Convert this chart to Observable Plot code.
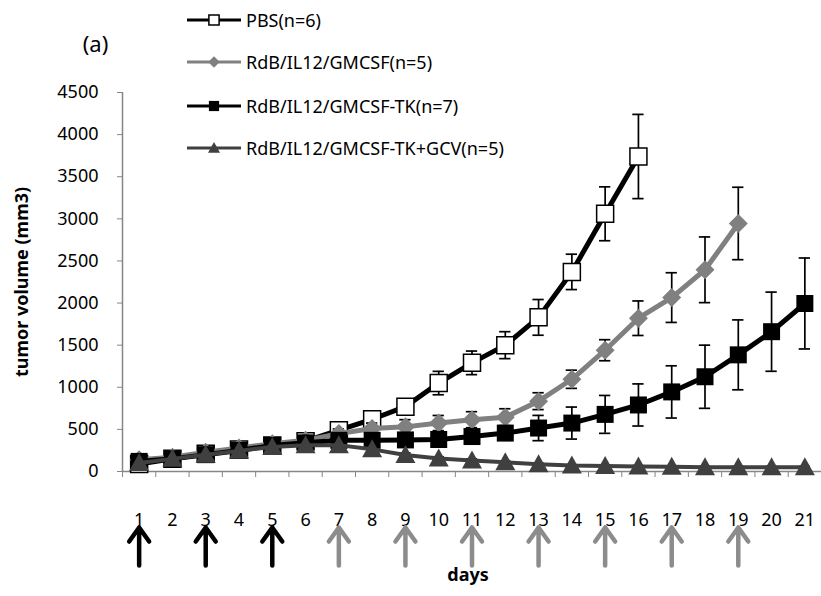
<!DOCTYPE html>
<html><head><meta charset="utf-8">
<script src="https://cdn.jsdelivr.net/npm/d3@7"></script>
<script src="https://cdn.jsdelivr.net/npm/@observablehq/plot@0.6"></script>
<style>
body{margin:0;background:#fff;font-family:"Noto Sans",sans-serif;}
#wrap{position:relative;width:821px;height:596px;overflow:hidden;}
#legend{position:absolute;left:187px;top:0;}
.row{position:absolute;left:0;height:24px;display:flex;align-items:center;white-space:nowrap;font-size:18px;color:#000;}
.row svg{margin-right:4px;}
</style></head><body>
<div id="wrap"><div id="chart"></div><div id="legend"></div></div>
<script>
// ---- data ----
const days = [1,2,3,4,5,6,7,8,9,10,11,12,13,14,15,16,17,18,19,20,21];
const seriesNames = ["PBS(n=6)", "RdB/IL12/GMCSF(n=5)", "RdB/IL12/GMCSF-TK(n=7)", "RdB/IL12/GMCSF-TK+GCV(n=5)"];
const pbs    = [90,150,210,260,310,360,490,620,770,1050,1290,1500,1830,2370,3060,3740];
const pbsErr = [15,20,25,30,35,40,50,60,70,139,140,160,212,210,320,500];
const gm     = [140,170,230,280,330,370,450,510,530,575,615,645,835,1095,1440,1820,2065,2395,2945];
const gmErr  = [20,25,30,35,40,45,55,65,85,90,95,100,100,108,125,205,295,390,430];
const tk     = [120,150,200,250,310,340,370,370,375,380,415,456,516,575,678,790,945,1125,1385,1660,1995];
const tkErr  = [20,25,30,35,40,45,50,55,60,65,70,80,150,190,225,250,310,375,415,470,540];
const gcv    = [100,150,200,245,292,312,313,263,195,155,130,110,85,70,65,60,55,50,50,50,50];
const gcvErr = [10,15,20,20,25,25,30,30,25,20,20,15,15,10,10,10,10,10,10,10,10];
const yTicks = [0,500,1000,1500,2000,2500,3000,3500,4000,4500];
const firstDoseDays = [1,3,5];
const laterDoseDays = [7,9,11,13,15,17,19];

// ---- symbols ----
const symSquare = {draw(c, s){ const r = Math.sqrt(s/Math.PI); c.moveTo(-r,-r); c.lineTo(r,-r); c.lineTo(r,r); c.lineTo(-r,r); c.closePath(); }};
const symDiamond = {draw(c, s){ const r = Math.sqrt(s/Math.PI); c.moveTo(0,-r); c.lineTo(r,0); c.lineTo(0,r); c.lineTo(-r,0); c.closePath(); }};
const symTriangle = {draw(c, s){ const r = Math.sqrt(s/Math.PI); c.moveTo(0,-r); c.lineTo(r,0.8*r); c.lineTo(-r,0.8*r); c.closePath(); }};
const arrowShape = {draw(c, l){ c.moveTo(0,0); c.lineTo(0,-l); c.moveTo(-10,-l+14); c.lineTo(0,-l); c.lineTo(10,-l+14); }};

const styles = [
  {line:"#000", w:5, sym:symSquare, r:8.5, fill:"#fff", stroke:"#000", sw:1.5},
  {line:"#808080", w:5, sym:symDiamond, r:9.5, fill:"#808080", stroke:"none", sw:0},
  {line:"#000", w:5, sym:symSquare, r:8.5, fill:"#000", stroke:"none", sw:0},
  {line:"#404040", w:4, sym:symTriangle, r:10, fill:"#404040", stroke:"none", sw:0}
];
const rows = (vals, errs) => vals.map((v,i) => ({day: days[i], v, e: errs[i]}));
const tables = [rows(pbs,pbsErr), rows(gm,gmErr), rows(tk,tkErr), rows(gcv,gcvErr)];

function seriesMarks(data, st){
  return [
    Plot.ruleX(data, {x:"day", y1:d=>d.v-d.e, y2:d=>d.v+d.e, stroke:"#000", strokeWidth:1.7}),
    Plot.ruleY(data, {y:d=>d.v+d.e, x1:d=>d.day-0.17, x2:d=>d.day+0.17, stroke:"#000", strokeWidth:1.7}),
    Plot.ruleY(data, {y:d=>d.v-d.e, x1:d=>d.day-0.17, x2:d=>d.day+0.17, stroke:"#000", strokeWidth:1.7}),
    Plot.line(data, {x:"day", y:"v", stroke:st.line, strokeWidth:st.w, strokeLinejoin:"round"}),
    Plot.dot(data, {x:"day", y:"v", symbol:st.sym, r:st.r, fill:st.fill, stroke:st.stroke, strokeWidth:st.sw})
  ];
}
const bounds = [0.5, ...days.map(d => d + 0.5)];

const chart = Plot.plot({
  width: 821, height: 596,
  marginLeft: 122, marginRight: 0, marginTop: 92, marginBottom: 125,
  x: {domain: [0.5, 21.5]},
  y: {domain: [0, 4500]},
  style: {fontFamily: '"Noto Sans", sans-serif', fontSize: "18px", color: "#000", background: "#fff", overflow: "visible"},
  marks: [
    Plot.axisY({ticks: yTicks, tickSize: 5, tickPadding: 19, stroke: "#868686", fill: "#000", fontSize: 18, label: null, tickFormat: d => String(d)}),
    Plot.axisX({ticks: bounds, tickSize: 6, tickFormat: () => "", stroke: "#868686", label: null}),
    Plot.axisX({ticks: days, tickSize: 0, tickPadding: 42, fontSize: 18, fill: "#000", label: null, tickFormat: d => String(d)}),
    Plot.ruleX([0.5], {stroke: "#868686", strokeWidth: 1.5}),
    Plot.ruleY([0], {stroke: "#868686", strokeWidth: 1.5}),
    ...tables.flatMap((t, i) => seriesMarks(t, styles[i])),
    Plot.vector(firstDoseDays, {x: d => d, frameAnchor: "bottom", dy: 94, length: 38, rotate: 0, anchor: "start", shape: arrowShape, stroke: "#000", strokeWidth: 4.5, strokeLinecap: "round"}),
    Plot.vector(laterDoseDays, {x: d => d, frameAnchor: "bottom", dy: 94, length: 38, rotate: 0, anchor: "start", shape: arrowShape, stroke: "#8c8c8c", strokeWidth: 4.5, strokeLinecap: "round"}),
    Plot.text(["days"], {frameAnchor: "bottom", dx: -4, dy: 109, fontWeight: "bold", fontSize: 18}),
    Plot.text(["tumor volume (mm3)"], {frameAnchor: "left", dx: -100, rotate: -90, fontWeight: "bold", fontSize: 18, textAnchor: "middle", lineAnchor: "middle"}),
    Plot.text(["(a)"], {frameAnchor: "top-left", dx: -27, dy: -48, fontSize: 22, textAnchor: "middle", lineAnchor: "middle"})
  ]
});
d3.select(chart).selectAll('g[aria-label="vector"]').style("filter", "blur(0.6px)");
document.getElementById("chart").appendChild(chart);

// ---- legend ----
const legendY = [20, 62, 106, 148];
const legend = d3.select("#legend");
seriesNames.forEach((name, i) => {
  const st = styles[i];
  const row = legend.append("div").attr("class", "row").style("top", (legendY[i] - 12) + "px");
  const svg = row.append("svg").attr("width", 55).attr("height", 22);
  svg.append("line").attr("x1", 0).attr("x2", 54).attr("y1", 11).attr("y2", 11)
    .attr("stroke", st.line).attr("stroke-width", 3);
  const r = st.r * 0.6;
  const p = d3.path();
  st.sym.draw(p, r * r * Math.PI);
  svg.append("path").attr("d", p.toString()).attr("transform", "translate(27,11)")
    .attr("fill", st.fill).attr("stroke", st.stroke).attr("stroke-width", st.sw);
  row.append("span").text(name);
});
</script>
</body></html>
